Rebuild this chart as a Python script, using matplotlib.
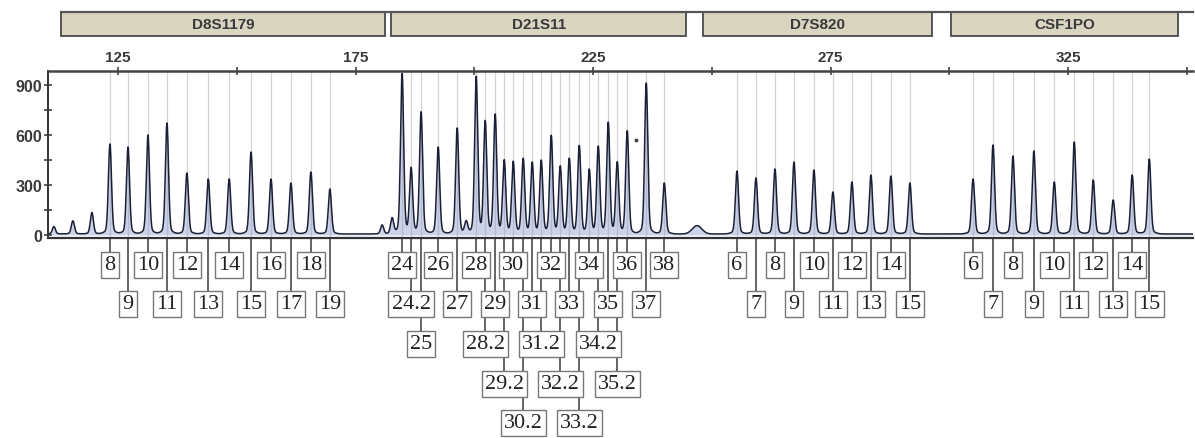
import numpy as np
import matplotlib
matplotlib.use("Agg")
import matplotlib.pyplot as plt
from matplotlib.patches import Rectangle

# ---- allelic ladder data (size in bp, peak height in RFU) ----
d8_alleles = ["8", "9", "10", "11", "12", "13", "14", "15", "16", "17", "18", "19"]
d8_sizes = [123.3, 127.1, 131.3, 135.3, 139.5, 144.0, 148.4, 153.0, 157.2, 161.4, 165.6, 169.6]
d8_heights = [546, 528, 600, 672, 372, 336, 336, 498, 336, 312, 378, 276]
d8_rows = [1, 2, 1, 2, 1, 2, 1, 2, 1, 2, 1, 2]

d21_alleles = ["24", "24.2", "25", "26", "27", "28", "28.2", "29", "29.2", "30", "30.2",
               "31", "31.2", "32", "32.2", "33", "33.2", "34", "34.2", "35", "35.2",
               "36", "37", "38"]
d21_sizes = [184.8, 186.7, 188.8, 192.4, 196.4, 200.4, 202.3, 204.4, 206.3, 208.2, 210.3,
             212.2, 214.1, 216.2, 218.1, 220.0, 222.1, 224.2, 226.1, 228.2, 230.1,
             232.2, 236.2, 240.0]
d21_heights = [966, 396, 738, 528, 642, 948, 678, 720, 444, 438, 456,
               432, 444, 594, 408, 456, 534, 390, 528, 672, 432,
               624, 912, 312]
d21_rows = [1, 2, 3, 1, 2, 1, 3, 2, 4, 1, 5,
            2, 3, 1, 4, 2, 5, 1, 3, 2, 4,
            1, 2, 1]

d7_alleles = ["6", "7", "8", "9", "10", "11", "12", "13", "14", "15"]
d7_sizes = [255.3, 259.3, 263.3, 267.3, 271.5, 275.5, 279.5, 283.5, 287.7, 291.7]
d7_heights = [384, 342, 396, 438, 390, 258, 318, 360, 354, 312]
d7_rows = [1, 2, 1, 2, 1, 2, 1, 2, 1, 2]

csf_alleles = ["6", "7", "8", "9", "10", "11", "12", "13", "14", "15"]
csf_sizes = [305.0, 309.2, 313.4, 317.8, 322.1, 326.3, 330.3, 334.5, 338.5, 342.1]
csf_heights = [336, 540, 474, 504, 318, 558, 330, 210, 360, 456]
csf_rows = [1, 2, 1, 2, 1, 2, 1, 2, 1, 2]

# small stutter / artefact peaks
minor_sizes = [111.5, 115.5, 119.5, 180.6, 182.7, 198.3]
minor_heights = [50, 85, 135, 60, 100, 78]
hump_size = 246.9
hump_height = 50
dot_size, dot_height = 234.1, 570

loci = ["D8S1179", "D21S11", "D7S820", "CSF1PO"]
locus_ranges = [(113.0, 181.2), (182.5, 244.6), (248.2, 296.4), (300.4, 348.2)]

x_major = [125, 175, 225, 275, 325]
x_minor = [150, 200, 250, 300, 350]
y_major = [0, 300, 600, 900]
y_minor = [150, 450, 750]

# ---- figure layout (pixel based) ----
W, H = 1195, 439
fig = plt.figure(figsize=(W / 100, H / 100), dpi=100)
fig.patch.set_facecolor("white")

x_left_px, x_right_px = 48, 1193
xlim = (110.26, 351.3)


def frac_box(x0, y_top, x1, y_bot):
    return [x0 / W, 1 - y_bot / H, (x1 - x0) / W, (y_bot - y_top) / H]


ax = fig.add_axes(frac_box(x_left_px, 72, x_right_px, 239.3))
lab = fig.add_axes(frac_box(x_left_px, 240, x_right_px, H), sharex=ax)
top = fig.add_axes(frac_box(x_left_px, 8, x_right_px, 42), sharex=ax)

ax.set_xlim(*xlim)
ax.set_ylim(-20, 984)

all_sizes = d8_sizes + d21_sizes + d7_sizes + csf_sizes
all_heights = d8_heights + d21_heights + d7_heights + csf_heights

# bin lines
for s in all_sizes:
    ax.axvline(s, color="#d4d4d4", lw=0.9, zorder=0)

# electropherogram trace built from the peak list (apex = listed height)
x = np.linspace(xlim[0], xlim[1], 8000)
sigma = 0.32
base = 6.0
trace = np.full_like(x, base)
for s, h in zip(all_sizes + minor_sizes, all_heights + minor_heights):
    amp = h - base
    trace += 0.95 * amp * np.exp(-0.5 * ((x - s) / sigma) ** 2)
    trace += 0.05 * amp * np.exp(-0.5 * ((x - s) / (3 * sigma)) ** 2)
trace += hump_height * np.exp(-0.5 * ((x - hump_size) / 1.0) ** 2)

ax.fill_between(x, 0, trace, color="#8e9ccc", alpha=0.45, lw=0, zorder=1)
ax.plot(x, trace, color="#1c2036", lw=1.1, zorder=2)
ax.plot([dot_size], [dot_height], marker="o", ms=1.8, color="#444444", zorder=3)

# axes styling
ax.spines["right"].set_visible(False)
ax.spines["top"].set_linewidth(1.8)
ax.spines["top"].set_color("#444444")
ax.spines["left"].set_linewidth(1.4)
ax.spines["left"].set_color("#333333")
ax.spines["bottom"].set_linewidth(1.6)
ax.spines["bottom"].set_color("#333333")

ax.xaxis.set_ticks_position("top")
ax.xaxis.set_label_position("top")
ax.set_xticks(x_major)
ax.set_xticks(x_minor, minor=True)
ax.set_xticklabels([str(v) for v in x_major], family="Liberation Sans",
                   fontsize=11, fontweight="bold", color="#3a3a3a")
ax.tick_params(axis="x", which="both", direction="inout", length=6, width=1.2,
               color="#444444", pad=2)
ax.set_yticks(y_major)
ax.set_yticks(y_minor, minor=True)
ax.set_yticklabels([str(v) for v in y_major], family="Liberation Sans",
                   fontsize=11.5, fontweight="bold", color="#3a3a3a")
ax.tick_params(axis="y", which="both", direction="inout", length=6, width=1.1,
               color="#333333", pad=1)

# ---- locus bars ----
top.set_ylim(42, 8)
top.axis("off")
top.plot([113.0, xlim[1]], [12.5, 12.5], color="#555555", lw=1.6, clip_on=False)
for name, (a, b) in zip(loci, locus_ranges):
    top.add_patch(Rectangle((a, 13), b - a, 24, facecolor="#d9d5c1",
                            edgecolor="#4a4a4a", lw=1.3))
    top.text((a + b) / 2, 25, name, ha="center", va="center",
             family="Liberation Sans", fontsize=11, fontweight="bold",
             color="#3a3a3a")

# ---- allele label boxes ----
lab.set_ylim(H, 240)
lab.axis("off")
row_y = {1: 265, 2: 304, 3: 344, 4: 384, 5: 423}

groups = [(d8_alleles, d8_sizes, d8_rows), (d21_alleles, d21_sizes, d21_rows),
          (d7_alleles, d7_sizes, d7_rows), (csf_alleles, csf_sizes, csf_rows)]
for names, sizes, rows in groups:
    for n, s, r in zip(names, sizes, rows):
        yc = row_y[r]
        lab.plot([s, s], [240, yc - 12], color="#3a3a3a", lw=1.1, zorder=1)
        lab.text(s, yc + 1, n, ha="center", va="center", family="Liberation Serif",
                 fontsize=16, color="#222222", zorder=3,
                 bbox=dict(boxstyle="square,pad=0.14", facecolor="white",
                           edgecolor="#777777", lw=1.0))

fig.savefig("out.png", dpi=100, facecolor="white")
